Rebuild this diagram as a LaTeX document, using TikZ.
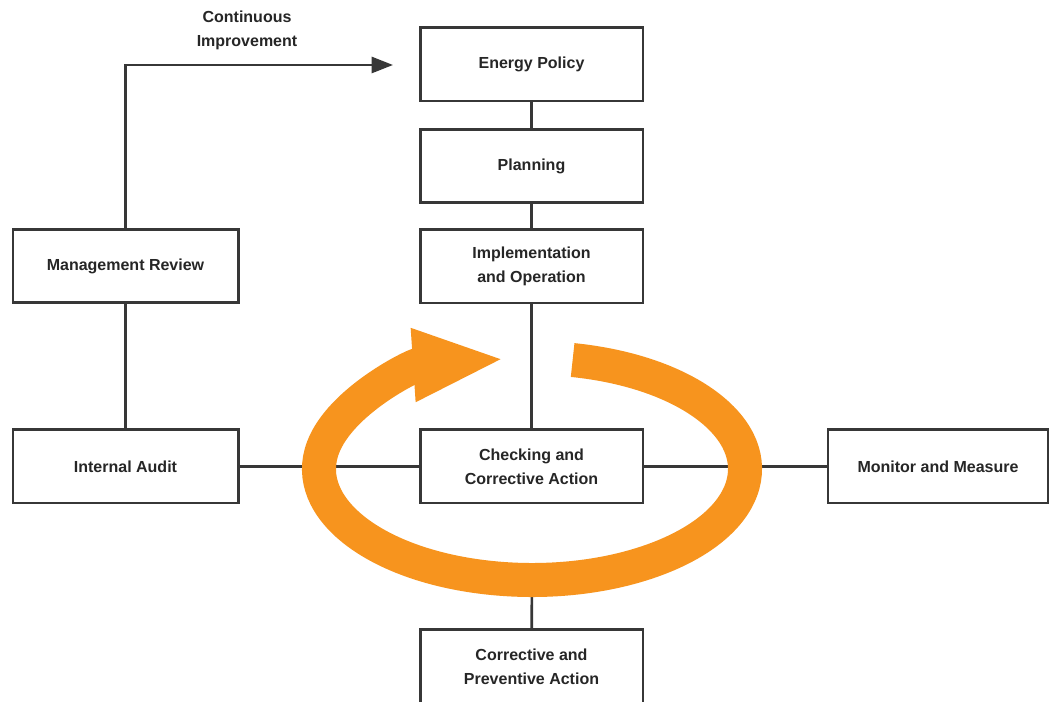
\documentclass[tikz,border=0pt]{standalone}
\usepackage{fontspec}
\setsansfont{Liberation Sans}
\usetikzlibrary{arrows.meta}
\definecolor{isoorange}{RGB}{247,148,30}
\definecolor{isogray}{RGB}{55,55,55}
\tikzset{
  stage/.style={draw=isogray, line width=2pt, fill=white, minimum width=167pt,
    minimum height=55pt, align=center, inner sep=0pt, text=black!85,
    font=\sffamily\bfseries\fontsize{12}{18}\selectfont},
  link/.style={isogray, line width=2pt},
}

\begin{document}
\begin{tikzpicture}[x=0.75pt,y=0.75pt]
\useasboundingbox[fill=white] (0,0) rectangle (1049,702);

% Main column
\node[stage] (policy) at (531.5,637.5) {Energy Policy};
\node[stage] (planning) at (531.5,536) {Planning};
\node[stage] (impl) at (531.5,435.5) {Implementation\\and Operation};
\node[stage] (check) at (531.5,235.5) {Checking and\\Corrective Action};
\node[stage] (corrective) at (531.5,35.5) {Corrective and\\Preventive Action};

% Side boxes
\node[stage,minimum width=169pt] (review) at (125.5,436) {Management Review};
\node[stage,minimum width=169pt] (audit) at (125.5,235.5) {Internal Audit};
\node[stage,minimum width=165pt] (monitor) at (938,235.5) {Monitor and Measure};

% Connections
\draw[link] (policy) -- (planning);
\draw[link] (planning) -- (impl);
\draw[link] (impl) -- (check);
\draw[link] (review) -- (audit);
\draw[link] (audit) -- (check);
\draw[link] (check) -- (monitor);

% Continuous improvement loop back to the policy
\coordinate (improve) at (393,637);
\draw[link,-{Triangle[length=16pt,width=12pt]}] (review.north) |- (improve);
\node[font=\sffamily\bfseries\fontsize{12}{18}\selectfont,text=black!85,align=center]
  (label) at (247,672) {Continuous\\Improvement};

% Orange cycle
\coordinate (ringc) at (532,233);
\coordinate (ringbottom) at (532,130);
\draw[link] (ringbottom) -- (corrective);
\draw[isoorange,line width=25.5pt,-{Triangle[length=69pt,width=50pt]}]
  ([shift={(79:159.75pt and 83.25pt)}]ringc)
  arc[start angle=79,end angle=-262.7,x radius=159.75pt,y radius=83.25pt];
\end{tikzpicture}
\end{document}
